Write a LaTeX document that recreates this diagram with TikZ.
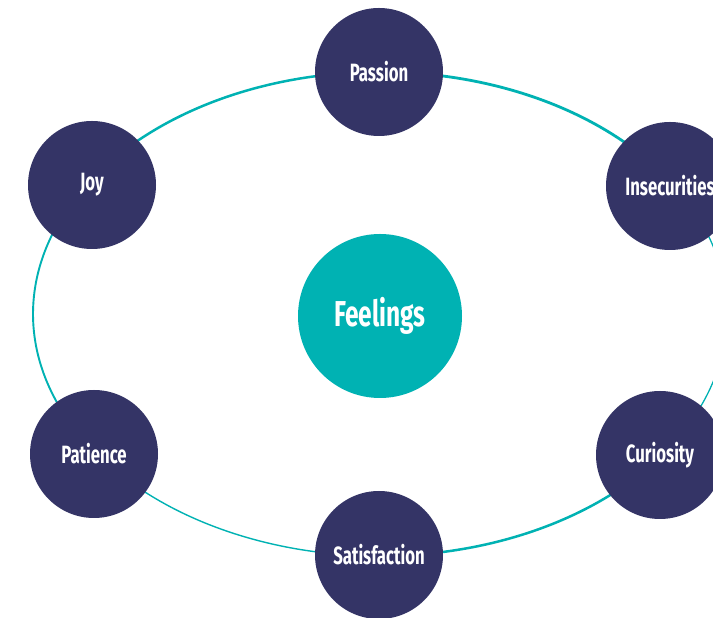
\documentclass[tikz,border=0pt]{standalone}
\usepackage{fontspec}
\newfontfamily\labelfont[FakeStretch=0.67]{Fira Sans}
\newfontfamily\hubfont[FakeStretch=0.68]{Fira Sans}
\definecolor{navy}{HTML}{343466}
\definecolor{teal}{HTML}{00B2B3}
\begin{document}
\begin{tikzpicture}[x=1pt,y=1pt,
  orbit/.style={circle,fill=navy,minimum size=128pt,inner sep=0pt,
    text=white,font=\labelfont\bfseries\fontsize{25}{28}\selectfont},
  hub/.style={circle,fill=teal,minimum size=164pt,inner sep=0pt,
    text=white,font=\hubfont\bfseries\fontsize{36}{40}\selectfont},
  ring/.style={draw=teal}]
\useasboundingbox (0,0) rectangle (713,618);
\clip (0,0) rectangle (713,618);
\fill[white] (0,0) rectangle (713,618);
% points of the ring where the arcs meet
\begin{scope}[shift={(380,304)}]
  \coordinate (cP) at (90:347 and 242);
  \coordinate (cI) at (33:347 and 242);
  \coordinate (cC) at (-36:347 and 242);
  \coordinate (cS) at (-90:347 and 242);
  \coordinate (cT) at (214:347 and 242);
  \coordinate (cJ) at (146:347 and 242);
\end{scope}
% the ring, one arc per neighbouring pair
\draw[ring,line width=2.8] (cP) arc[start angle=90,end angle=33,x radius=347,y radius=242];
\draw[ring,line width=1.3] (cI) arc[start angle=33,end angle=-36,x radius=347,y radius=242];
\draw[ring,line width=2.5] (cC) arc[start angle=-36,end angle=-90,x radius=347,y radius=242];
\draw[ring,line width=1.4] (cS) arc[start angle=270,end angle=214,x radius=347,y radius=242];
\draw[ring,line width=1.9] (cT) arc[start angle=214,end angle=146,x radius=347,y radius=242];
\draw[ring,line width=2.5] (cJ) arc[start angle=146,end angle=90,x radius=347,y radius=242];
% feelings
\node[orbit] (passion) at (379,546) {Passion};
\node[orbit] (insec) at (670,432) {Insecurities};
\node[orbit] (curio) at (660,163) {Curiosity};
\node[orbit] (satis) at (379,63) {Satisfaction};
\node[orbit] (patience) at (94,164) {Patience};
\node[orbit] (joy) at (92,433) {Joy};
\node[hub] (feelings) at (380,302) {Feelings};
\end{tikzpicture}
\end{document}
